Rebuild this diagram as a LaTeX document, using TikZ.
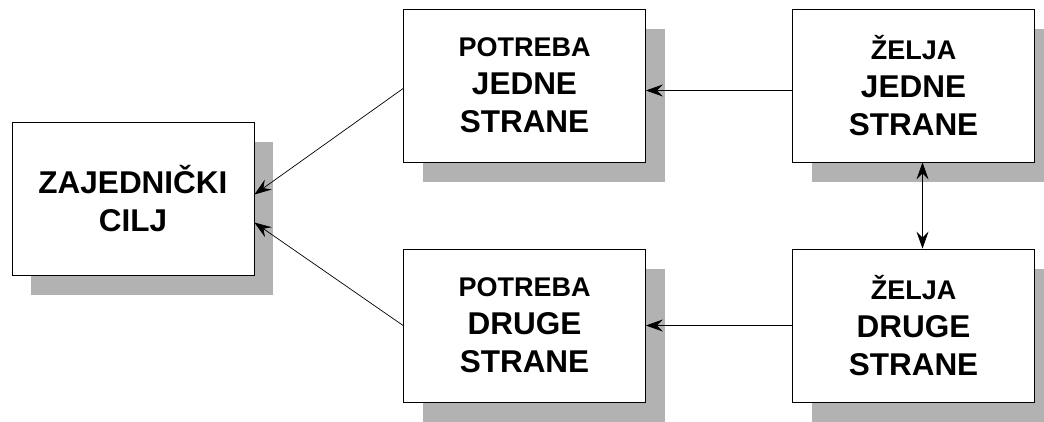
\documentclass[tikz,border=0pt]{standalone}
\usepackage{fontspec}
\setmainfont{Liberation Sans}
\usetikzlibrary{shadows,arrows.meta}

\tikzset{
    kutija/.style={draw, line width=0.8pt, fill=white, inner sep=0pt,
        minimum width=242pt, minimum height=153pt, align=center,
        font=\bfseries\fontsize{31.5}{38}\selectfont,
        drop shadow={shadow xshift=19pt, shadow yshift=-20pt, fill=black!30, opacity=1}},
    vrh/.tip={Stealth[length=17pt, width=12pt, inset=6pt]},
    strelica/.style={-vrh, line width=0.7pt},
    dvostruka/.style={vrh-vrh, line width=0.7pt}
}
\newcommand{\manji}{\fontsize{27}{38}\selectfont}

\begin{document}
\begin{tikzpicture}[x=1pt, y=-1pt]
    
    \clip (0,0) rectangle (1044,421);
    
    \node[kutija] (cilj) at (133,198.5)  {ZAJEDNIČKI\\CILJ};
    \node[kutija] (pj)   at (524.5,85.5) {{\manji POTREBA}\\JEDNE\\STRANE};
    \node[kutija] (pd)   at (524.5,325.5) {{\manji POTREBA}\\DRUGE\\STRANE};
    \node[kutija] (zj)   at (913.5,85.5) {{\manji ŽELJA}\\JEDNE\\STRANE};
    \node[kutija] (zd)   at (913.5,325.5) {{\manji ŽELJA}\\DRUGE\\STRANE};
    
    \path[strelica] ([yshift=-5pt]zj.west) edge ([yshift=-5pt]pj.east);
    \path[strelica] (zd.west) edge (pd.east);
    \path[strelica] ([yshift=-3pt]pj.west) edge ([yshift=4pt]cilj.east);
    \path[strelica] (pd.west) edge ([yshift=-24pt]cilj.east);
    \path[dvostruka] ([xshift=9pt]zj.south) edge ([xshift=9pt]zd.north);
    
\end{tikzpicture}
\end{document}
